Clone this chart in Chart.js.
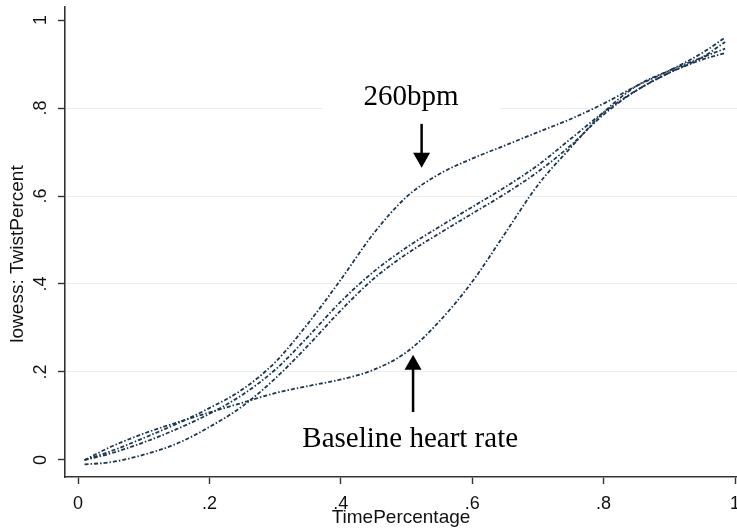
<!DOCTYPE html>
<html><head><meta charset="utf-8">
<script src="https://cdn.jsdelivr.net/npm/chart.js@4.4.1/dist/chart.umd.min.js"></script>
<style>html,body{margin:0;padding:0;background:#fff;} #wrap{width:737px;height:531px;position:relative;}</style>
</head><body><div id="wrap"><canvas id="c" width="737" height="531"></canvas></div>
<script>
// ---- data ----
const timePct     = [0.01,0.05,0.10,0.15,0.20,0.25,0.30,0.35,0.40,0.45,0.50,0.55,0.60,0.65,0.70,0.75,0.80,0.85,0.90,0.95,0.985];
const twist260    = [0.000,0.020,0.050,0.082,0.118,0.160,0.222,0.310,0.410,0.515,0.598,0.650,0.685,0.715,0.745,0.775,0.810,0.850,0.885,0.925,0.960];
const twistMidA   = [0.000,0.015,0.040,0.070,0.105,0.148,0.205,0.280,0.360,0.428,0.483,0.530,0.575,0.620,0.670,0.730,0.790,0.840,0.880,0.915,0.950];
const twistMidB   = [-0.010,-0.005,0.012,0.037,0.075,0.122,0.185,0.260,0.340,0.412,0.468,0.515,0.560,0.605,0.655,0.715,0.785,0.840,0.880,0.910,0.925];
const twistBase   = [0.000,0.030,0.060,0.085,0.108,0.130,0.152,0.168,0.183,0.205,0.245,0.315,0.405,0.515,0.625,0.710,0.790,0.850,0.885,0.915,0.935];
const tickValues  = [0,0.2,0.4,0.6,0.8,1];
const tickLabels  = ['0','.2','.4','.6','.8','1'];
const xTitle = 'TimePercentage';
const yTitle = 'lowess: TwistPercent';
const labelTop = '260bpm';
const labelBottom = 'Baseline heart rate';

const toPts = ys => timePct.map((x,i)=>({x:x,y:ys[i]}));
const lineColor = '#1d3752';
const mkSet = ys => ({data:toPts(ys), showLine:true, borderColor:lineColor, borderWidth:1.8,
  borderDash:[4,2,1.5,2], pointRadius:0, cubicInterpolationMode:'monotone', fill:false});

const annot = {
  id:'annot',
  beforeDatasetsDraw(chart){
    const {ctx, scales:{x,y}} = chart;
    ctx.save(); ctx.fillStyle='#ffffff';
    const x0=x.getPixelForValue(0.372), x1=x.getPixelForValue(0.643);
    const y0=y.getPixelForValue(0.87), y1=y.getPixelForValue(0.775);
    ctx.fillRect(x0,y0,x1-x0,y1-y0);
    ctx.restore();
  },
  afterDraw(chart){
    const {ctx, scales:{x,y}, chartArea} = chart;
    ctx.save();
    ctx.fillStyle='#111';
    ctx.font='18px "Liberation Sans", Arial, sans-serif';
    ctx.textAlign='center'; ctx.textBaseline='alphabetic';
    tickValues.forEach((v,i)=>{
      const py=y.getPixelForValue(v);
      ctx.save(); ctx.translate(chartArea.left-19, py); ctx.rotate(-Math.PI/2);
      ctx.fillText(tickLabels[i],0,0); ctx.restore();
    });
    ctx.font='19px "Liberation Sans", Arial, sans-serif';
    ctx.save(); ctx.translate(23, (chartArea.top+chartArea.bottom)/2+12); ctx.rotate(-Math.PI/2);
    ctx.fillText(yTitle,0,0); ctx.restore();
    ctx.fillStyle='#000'; ctx.strokeStyle='#000';
    ctx.font='29px "Liberation Serif", "Times New Roman", serif';
    ctx.fillText(labelTop, x.getPixelForValue(0.507), y.getPixelForValue(0.807));
    ctx.fillText(labelBottom, x.getPixelForValue(0.5056), y.getPixelForValue(0.0295));
    const arrow=(xv,yFrom,yTo)=>{
      const px=x.getPixelForValue(xv), p0=y.getPixelForValue(yFrom), p1=y.getPixelForValue(yTo);
      const dir = p1>p0?1:-1;
      ctx.lineWidth=2.5;
      ctx.beginPath(); ctx.moveTo(px,p0); ctx.lineTo(px,p1-dir*14); ctx.stroke();
      ctx.beginPath(); ctx.moveTo(px-8.5,p1-dir*15); ctx.lineTo(px+8.5,p1-dir*15); ctx.lineTo(px,p1); ctx.closePath(); ctx.fill();
    };
    arrow(0.523, 0.764, 0.664);
    arrow(0.510, 0.109, 0.239);
    ctx.restore();
  }
};

new Chart(document.getElementById('c'), {
  type:'scatter',
  data:{datasets:[mkSet(twist260), mkSet(twistMidA), mkSet(twistMidB), mkSet(twistBase)]},
  options:{
    responsive:false, animation:false,
    layout:{padding:{top:7,right:0,left:0,bottom:0}},
    plugins:{legend:{display:false}, tooltip:{enabled:false}},
    scales:{
      x:{type:'linear', min:-0.01979, max:1.00304,
        afterBuildTicks:s=>{s.ticks=tickValues.map(v=>({value:v}));},
        afterFit:s=>{s.height=54; s.paddingLeft=0; s.paddingRight=0;},
        ticks:{callback:(v)=>tickLabels[tickValues.indexOf(v)] ?? '', color:'#111', padding:9, maxRotation:0, autoSkip:false,
          font:{family:'"Liberation Sans", Arial, sans-serif', size:18}},
        grid:{drawOnChartArea:false, drawTicks:true, tickLength:7, tickColor:'#333', tickWidth:1.4},
        border:{display:true, color:'#333', width:1.6},
        title:{display:true, text:xTitle, color:'#111', padding:{top:0,bottom:2},
          font:{family:'"Liberation Sans", Arial, sans-serif', size:19}}
      },
      y:{type:'linear', min:-0.03864, max:1.02955,
        afterBuildTicks:s=>{s.ticks=tickValues.map(v=>({value:v}));},
        afterFit:s=>{s.width=65; s.paddingTop=0; s.paddingBottom=0;},
        ticks:{display:false},
        grid:{drawOnChartArea:true, drawTicks:true, tickLength:7, tickColor:'#333', tickWidth:1.4,
          color:(c)=> (c.tick && (c.tick.value===0 || c.tick.value===1)) ? 'rgba(0,0,0,0)' : '#e9eef0', lineWidth:1},
        border:{display:true, color:'#333', width:1.6}
      }
    }
  },
  plugins:[annot]
});
</script></body></html>
